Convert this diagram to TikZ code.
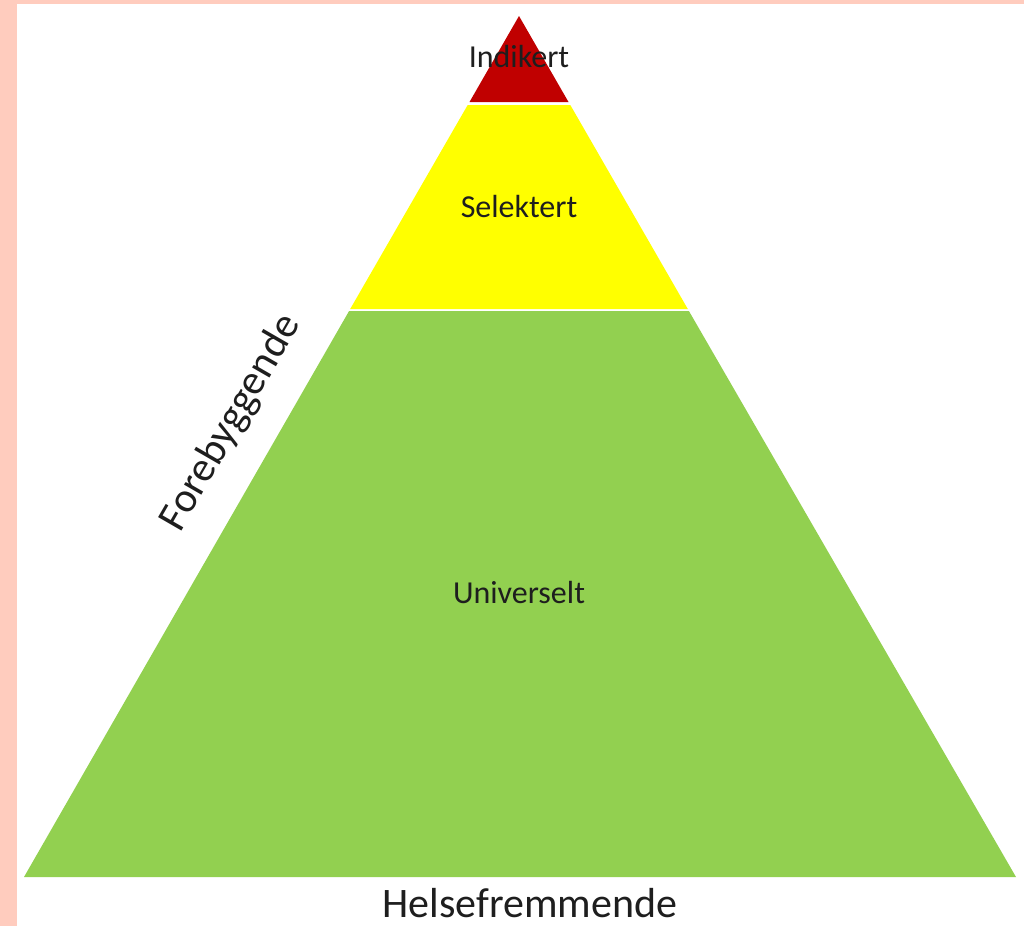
\documentclass[tikz,border=0pt]{standalone}
\usepackage{fontspec}
\setmainfont{Carlito}
\definecolor{pinkframe}{HTML}{FFCCBE}
\definecolor{indred}{HTML}{C00000}
\definecolor{selyellow}{HTML}{FFFF00}
\definecolor{unigreen}{HTML}{92D050}
\definecolor{txtgray}{HTML}{1E1E1E}
\tikzset{
  band/.style={font=\fontsize{16}{18}\selectfont, text=txtgray, anchor=base, inner sep=0pt},
  side/.style={font=\fontsize{21}{24}\selectfont, text=txtgray, inner sep=0pt}
}

\begin{document}
\begin{tikzpicture}[x=0.5pt,y=-0.5pt]
\useasboundingbox (0,0) rectangle (1024,926);
\path[fill=pinkframe] (0,0) rectangle (1024,926);
\path[fill=white] (17,4) rectangle (1024,926);

\path[fill=indred] (519,16) -- (568.5,102) -- (469.5,102) -- cycle;
\path[fill=selyellow] (467.7,105) -- (570.3,105) -- (687.8,309) -- (350.2,309) -- cycle;
\path[fill=unigreen] (349.1,311) -- (688.9,311) -- (1016,877) -- (24,877) -- cycle;

\node[band] (indikert) at (519,68) {Indikert};
\node[band] (selektert) at (519,217) {Selektert};
\node[band] (universelt) at (519,603) {Universelt};

\node[side, anchor=base] (helse) at (530,917) {Helsefremmende};
\node[side, rotate=60] (forebygg) at (231,423) {Forebyggende};
\end{tikzpicture}
\end{document}
